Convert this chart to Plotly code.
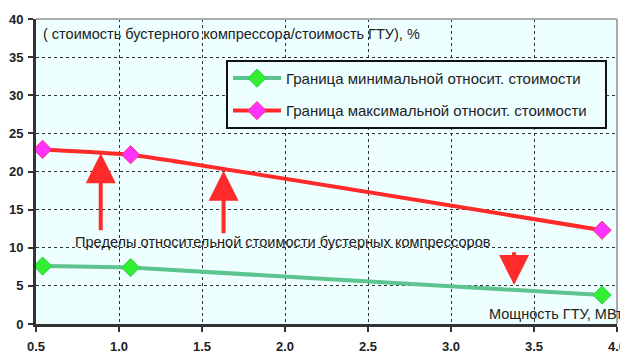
import plotly.graph_objects as go

# Data
power_mw = [0.54, 1.07, 3.91]
min_rel_cost = [7.6, 7.4, 3.8]
max_rel_cost = [22.9, 22.2, 12.3]
series_names = ["Граница минимальной относит. стоимости",
                "Граница максимальной относит. стоимости"]
x_ticks = [0.5, 1.0, 1.5, 2.0, 2.5, 3.0, 3.5, 4.0]
y_ticks = [0, 5, 10, 15, 20, 25, 30, 35, 40]

# arrows: (tip_x, tip_y, tail_x, tail_y)
arrows = [(0.89, 22.4, 0.89, 12.1),
          (1.63, 20.1, 1.63, 11.7),
          (3.38, 5.1, 3.38, 9.6)]

FONT = "Liberation Sans, Arial, sans-serif"
BG = "#eeffff"
PAD = "\u00a0\u00a0\u00a0"

fig = go.Figure()
fig.add_trace(go.Scatter(
    x=power_mw, y=min_rel_cost, name=series_names[0] + PAD, mode="lines+markers",
    line=dict(color="#5cc48e", width=4, shape="spline", smoothing=0.3),
    marker=dict(symbol="diamond", size=14, color="#33ee33",
                line=dict(color="#33cc55", width=1)),
    legendgroup="a"))
fig.add_trace(go.Scatter(
    x=power_mw, y=max_rel_cost, name=series_names[1] + PAD, mode="lines+markers",
    line=dict(color="#ff2a2a", width=4, shape="spline", smoothing=0.3),
    marker=dict(symbol="diamond", size=14, color="#ff33ff",
                line=dict(color="#ff3070", width=1)),
    legendgroup="b"))

annotations = []
for tx, ty, ax, ay in arrows:
    annotations.append(dict(
        x=tx, y=ty, ax=ax, ay=ay, xref="x", yref="y", axref="x", ayref="y",
        text="", showarrow=True, arrowhead=2, arrowsize=1.5, arrowwidth=4,
        arrowcolor="#ff2a2a", standoff=0, startstandoff=0))

annotations += [
    dict(text="( стоимость бустерного компрессора/стоимость ГТУ), %",
         x=0.008, y=0.951, xref="paper", yref="paper", xanchor="left",
         yanchor="middle", showarrow=False,
         font=dict(family=FONT, size=14.5, color="#222222")),
    dict(text="Пределы относительной стоимости бустерных компрессоров",
         x=0.063, y=0.269, xref="paper", yref="paper", xanchor="left",
         yanchor="middle", showarrow=False,
         font=dict(family=FONT, size=14.6, color="#222222")),
    dict(text="Мощность ГТУ, МВт",
         x=1.0135, y=0.033, xref="paper", yref="paper", xanchor="right",
         yanchor="middle", showarrow=False,
         font=dict(family=FONT, size=14.5, color="#222222")),
]

# page has an 8px body margin: figure sized/offset so the plot lands where the reference has it
fig.update_layout(
    width=620, height=345,
    margin=dict(l=28, r=11, t=11, b=29),
    paper_bgcolor="white", plot_bgcolor=BG,
    font=dict(family=FONT, color="#222222"),
    showlegend=True,
    legend=dict(x=0.327, y=0.866, xanchor="left", yanchor="top",
                bgcolor=BG, bordercolor="#111111", borderwidth=2,
                font=dict(family=FONT, size=15, color="#222222"),
                tracegroupgap=10, itemwidth=48),
    annotations=annotations,
    shapes=[
        dict(type="line", xref="paper", yref="paper", x0=0, x1=1, y0=1, y1=1,
             line=dict(color="#aaaaaa", width=2)),
        dict(type="line", xref="paper", yref="paper", x0=1, x1=1, y0=0, y1=1,
             line=dict(color="#aaaaaa", width=2)),
    ],
)

common = dict(showgrid=True, gridcolor="#333333", griddash="3px,3px", gridwidth=1,
              showline=True, linecolor="#333333", linewidth=3,
              ticks="outside", ticklen=5, tickwidth=2, tickcolor="#333333",
              tickfont=dict(family=FONT, size=13, color="#222222", weight="bold"),
              zeroline=False, automargin=False)
fig.update_xaxes(range=[0.5, 4.0], tickvals=x_ticks,
                 ticktext=[f"{v:.1f}" for v in x_ticks],
                 ticklabelstandoff=3, **common)
fig.update_yaxes(range=[0, 40], tickvals=y_ticks, ticklabelstandoff=2, **common)

fig.write_html("out.html")
